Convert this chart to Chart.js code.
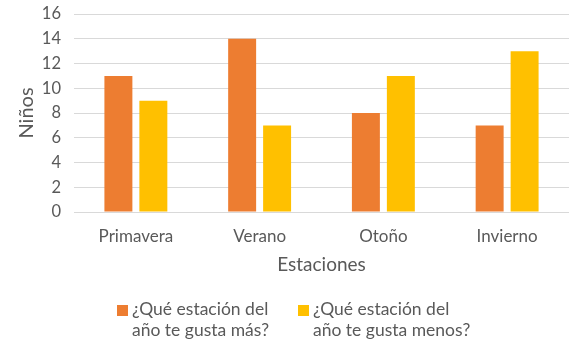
<!DOCTYPE html>
<html>
<head>
<meta charset="utf-8">
<script src="https://cdn.jsdelivr.net/npm/chart.js@4"></script>
<style>
  html, body { margin: 0; padding: 0; background: #fff; }
  #wrap { position: relative; width: 581px; height: 352px; }
  #legend { position: absolute; left: 0; top: 298px; width: 581px; font-family: Lato, sans-serif; font-size: 17.5px; color: #595959; line-height: 21px; }
  .item { position: absolute; top: 0; }
  .box { position: absolute; top: 7px; width: 11px; height: 11px; }
  .txt { position: absolute; left: 15px; top: 0; white-space: nowrap; }
</style>
</head>
<body>
<div id="wrap">
  <canvas id="chart" width="581" height="352"></canvas>
  <div id="legend"></div>
</div>
<script>
const categories = ['Primavera', 'Verano', 'Otoño', 'Invierno'];
const seriesNames = [['¿Qué estación del', 'año te gusta más?'], ['¿Qué estación del', 'año te gusta menos?']];
const masValues = [11, 14, 8, 7];
const menosValues = [9, 7, 11, 13];
const colors = ['#ED7D31', '#FFC000'];
const textColor = '#595959';

const ctx = document.getElementById('chart').getContext('2d');
const chart = new Chart(ctx, {
    type: 'bar',
    data: {
        labels: categories,
        datasets: [{
            label: seriesNames[0].join(' '),
            data: masValues,
            backgroundColor: colors[0]
        }, {
            label: seriesNames[1].join(' '),
            data: menosValues,
            backgroundColor: colors[1]
        }]
    },
    options: {
        responsive: false,
        animation: false,
        layout: { padding: { left: 0, right: 12, top: 0, bottom: 70 } },
        datasets: { bar: { categoryPercentage: 0.565, barPercentage: 0.8 } },
        plugins: { legend: { display: false }, tooltip: { enabled: false } },
        scales: {
            x: {
                grid: { display: false },
                border: { display: false },
                ticks: { color: textColor, font: { family: 'Lato', size: 17 }, padding: 6 },
                title: { display: true, text: 'Estaciones', color: textColor, font: { family: 'Lato', size: 19 }, padding: { top: 0, bottom: 6 } },
                afterFit: s => { s.height = 70; }
            },
            y: {
                min: 0, max: 16,
                grid: { color: '#d9d9d9', drawTicks: false },
                border: { display: false },
                ticks: { stepSize: 2, color: textColor, font: { family: 'Lato', size: 16.5 }, padding: 13 },
                title: { display: true, text: 'Niños', color: textColor, font: { family: 'Lato', size: 20 }, padding: { top: 15, bottom: 0 } },
                afterFit: s => { s.width = 74; s.paddingTop = 14; }
            }
        }
    }
});

// legend with two-line labels, below the plot
const legend = document.getElementById('legend');
const legendX = [117, 298];
seriesNames.forEach((lines, i) => {
    const item = document.createElement('div');
    item.className = 'item';
    item.style.left = legendX[i] + 'px';
    item.innerHTML = '<div class="box" style="background:' + colors[i] + '"></div>' +
        '<div class="txt">' + lines.join('<br>') + '</div>';
    legend.appendChild(item);
});
</script>
</body>
</html>
